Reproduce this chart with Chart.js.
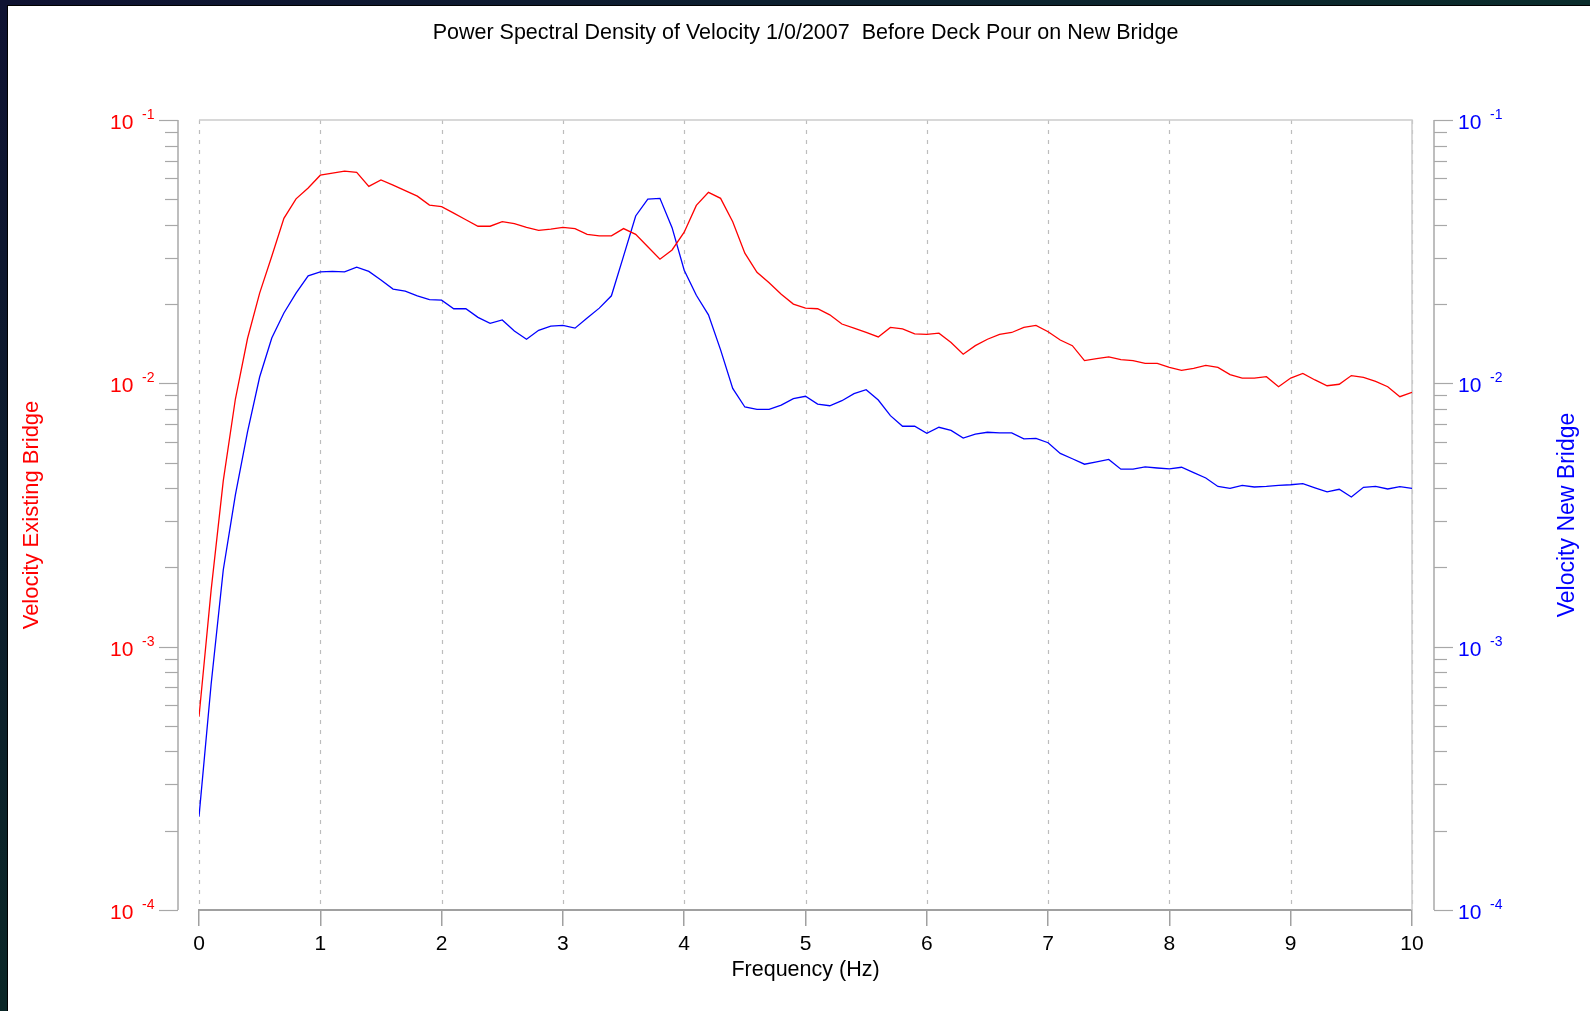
<!DOCTYPE html>
<html>
<head>
<meta charset="utf-8">
<script src="https://cdn.jsdelivr.net/npm/chart.js@4.4.1/dist/chart.umd.min.js"></script>
<style>
  html, body { margin: 0; padding: 0; background: #fff; overflow: hidden; }
  canvas { display: block; }
</style>
</head>
<body>
<canvas id="psd" width="1590" height="1011"></canvas>
<script>
const freqHz = [
  0.0, 0.1, 0.2, 0.3, 0.4, 0.5, 0.6, 0.7, 0.8, 0.9,
  1.0, 1.1, 1.2, 1.3, 1.4, 1.5, 1.6, 1.7, 1.8, 1.9,
  2.0, 2.1, 2.2, 2.3, 2.4, 2.5, 2.6, 2.7, 2.8, 2.9,
  3.0, 3.1, 3.2, 3.3, 3.4, 3.5, 3.6, 3.7, 3.8, 3.9,
  4.0, 4.1, 4.2, 4.3, 4.4, 4.5, 4.6, 4.7, 4.8, 4.9,
  5.0, 5.1, 5.2, 5.3, 5.4, 5.5, 5.6, 5.7, 5.8, 5.9,
  6.0, 6.1, 6.2, 6.3, 6.4, 6.5, 6.6, 6.7, 6.8, 6.9,
  7.0, 7.1, 7.2, 7.3, 7.4, 7.5, 7.6, 7.7, 7.8, 7.9,
  8.0, 8.1, 8.2, 8.3, 8.4, 8.5, 8.6, 8.7, 8.8, 8.9,
  9.0, 9.1, 9.2, 9.3, 9.4, 9.5, 9.6, 9.7, 9.8, 9.9,
  10.0
];

// Velocity PSD, existing bridge (left axis)
const existingBridge = [
  5.42e-4, 1.64e-3, 4.26e-3, 8.72e-3, 1.48e-2, 2.20e-2, 3.04e-2, 4.23e-2, 5.02e-2, 5.52e-2,
  6.17e-2, 6.28e-2, 6.39e-2, 6.33e-2, 5.60e-2, 5.92e-2, 5.66e-2, 5.39e-2, 5.14e-2, 4.75e-2,
  4.69e-2, 4.43e-2, 4.18e-2, 3.95e-2, 3.95e-2, 4.11e-2, 4.04e-2, 3.91e-2, 3.81e-2, 3.85e-2,
  3.91e-2, 3.87e-2, 3.68e-2, 3.63e-2, 3.63e-2, 3.87e-2, 3.68e-2, 3.30e-2, 2.96e-2, 3.21e-2,
  3.75e-2, 4.74e-2, 5.31e-2, 5.04e-2, 4.11e-2, 3.12e-2, 2.64e-2, 2.41e-2, 2.18e-2, 2.00e-2,
  1.93e-2, 1.92e-2, 1.82e-2, 1.68e-2, 1.62e-2, 1.56e-2, 1.50e-2, 1.63e-2, 1.61e-2, 1.54e-2,
  1.535e-2, 1.55e-2, 1.43e-2, 1.29e-2, 1.39e-2, 1.47e-2, 1.535e-2, 1.56e-2, 1.63e-2, 1.66e-2,
  1.57e-2, 1.46e-2, 1.39e-2, 1.22e-2, 1.24e-2, 1.26e-2, 1.23e-2, 1.22e-2, 1.19e-2, 1.19e-2,
  1.15e-2, 1.12e-2, 1.14e-2, 1.17e-2, 1.15e-2, 1.08e-2, 1.047e-2, 1.047e-2, 1.06e-2, 9.71e-3,
  1.047e-2, 1.09e-2, 1.03e-2, 9.79e-3, 9.92e-3, 1.07e-2, 1.054e-2, 1.018e-2, 9.71e-3, 8.90e-3,
  9.25e-3
];

// Velocity PSD, new bridge (right axis)
const newBridge = [
  2.26e-4, 7.2e-4, 1.955e-3, 3.77e-3, 6.54e-3, 1.057e-2, 1.487e-2, 1.85e-2, 2.20e-2, 2.56e-2,
  2.65e-2, 2.66e-2, 2.65e-2, 2.76e-2, 2.66e-2, 2.47e-2, 2.28e-2, 2.24e-2, 2.15e-2, 2.08e-2,
  2.07e-2, 1.92e-2, 1.92e-2, 1.78e-2, 1.69e-2, 1.74e-2, 1.58e-2, 1.47e-2, 1.59e-2, 1.65e-2,
  1.66e-2, 1.62e-2, 1.77e-2, 1.93e-2, 2.15e-2, 3.04e-2, 4.32e-2, 5.01e-2, 5.04e-2, 3.90e-2,
  2.69e-2, 2.16e-2, 1.82e-2, 1.34e-2, 9.57e-3, 8.13e-3, 7.97e-3, 7.97e-3, 8.27e-3, 8.74e-3,
  8.93e-3, 8.34e-3, 8.22e-3, 8.59e-3, 9.14e-3, 9.46e-3, 8.64e-3, 7.54e-3, 6.87e-3, 6.87e-3,
  6.46e-3, 6.81e-3, 6.63e-3, 6.20e-3, 6.42e-3, 6.52e-3, 6.48e-3, 6.48e-3, 6.15e-3, 6.18e-3,
  5.95e-3, 5.42e-3, 5.17e-3, 4.93e-3, 5.03e-3, 5.14e-3, 4.72e-3, 4.72e-3, 4.82e-3, 4.77e-3,
  4.73e-3, 4.80e-3, 4.58e-3, 4.37e-3, 4.06e-3, 3.99e-3, 4.10e-3, 4.04e-3, 4.06e-3, 4.10e-3,
  4.12e-3, 4.16e-3, 4.01e-3, 3.87e-3, 3.96e-3, 3.70e-3, 4.03e-3, 4.06e-3, 3.97e-3, 4.05e-3,
  3.99e-3
];

const freqTicks = [0, 1, 2, 3, 4, 5, 6, 7, 8, 9, 10];
const decadeExponents = [-1, -2, -3, -4];
const minorSteps = [2, 3, 4, 5, 6, 7, 8, 9];

const titleText = 'Power Spectral Density of Velocity 1/0/2007  Before Deck Pour on New Bridge';
const xTitle = 'Frequency (Hz)';
const leftTitle = 'Velocity Existing Bridge';
const rightTitle = 'Velocity New Bridge';

const FONT = '"Liberation Sans", Arial, Helvetica, sans-serif';
const RED = '#ff0000';
const BLUE = '#0000ff';

// draws the detached log axis (line, ticks, 10^n labels) next to the plot
function drawLogAxis(ctx, scale, lineX, dir, color) {
  let top = scale.getPixelForValue(Math.pow(10, decadeExponents[0]));
  let bottom = scale.getPixelForValue(Math.pow(10, decadeExponents[decadeExponents.length - 1]));
  ctx.strokeStyle = '#a8a8a8';
  ctx.lineWidth = 1.5;
  ctx.beginPath();
  ctx.moveTo(lineX, top);
  ctx.lineTo(lineX, bottom);
  ctx.stroke();

  ctx.lineWidth = 1.2;
  decadeExponents.forEach(function (exp, i) {
    let y = Math.round(scale.getPixelForValue(Math.pow(10, exp))) + 0.5;
    ctx.beginPath();
    ctx.moveTo(lineX, y);
    ctx.lineTo(lineX + dir * 19, y);
    ctx.stroke();
    if (i < decadeExponents.length - 1) {
      minorSteps.forEach(function (m) {
        let my = Math.round(scale.getPixelForValue(m * Math.pow(10, exp - 1))) + 0.5;
        ctx.beginPath();
        ctx.moveTo(lineX, my);
        ctx.lineTo(lineX + dir * 13, my);
        ctx.stroke();
      });
    }
    // label "10" with raised exponent
    let baseX = dir < 0 ? lineX - 68 : lineX + 24;
    ctx.fillStyle = color;
    ctx.textAlign = 'left';
    ctx.textBaseline = 'alphabetic';
    ctx.font = '21px ' + FONT;
    ctx.fillText('10', baseX, y + 8);
    ctx.font = '14px ' + FONT;
    ctx.fillText(String(exp), baseX + 32, y - 2);
  });
}

const framePlugin = {
  id: 'framePlugin',
  beforeDraw(chart) {
    let ctx = chart.ctx;
    ctx.save();
    ctx.fillStyle = '#ffffff';
    ctx.fillRect(0, 0, chart.width, chart.height);
    // dark window edge at top and left
    let gTop = ctx.createLinearGradient(0, 0, chart.width, 0);
    gTop.addColorStop(0, '#0f1232');
    gTop.addColorStop(1, '#0b2d2c');
    ctx.fillStyle = gTop;
    ctx.fillRect(0, 0, chart.width, 6);
    let gLeft = ctx.createLinearGradient(0, 0, 0, chart.height);
    gLeft.addColorStop(0, '#0f1232');
    gLeft.addColorStop(1, '#0b2727');
    ctx.fillStyle = gLeft;
    ctx.fillRect(0, 0, 8, chart.height);
    ctx.fillStyle = '#000';
    ctx.fillRect(8, 5, chart.width - 8, 1);
    ctx.fillRect(7, 5, 1, chart.height - 5);
    ctx.restore();
  },
  beforeDatasetsDraw(chart) {
    let ctx = chart.ctx;
    let area = chart.chartArea;
    let xs = chart.scales.x;
    ctx.save();
    // dashed vertical grid
    ctx.strokeStyle = '#bdbdbd';
    ctx.lineWidth = 1.2;
    ctx.setLineDash([4, 6]);
    freqTicks.forEach(function (f) {
      let x = Math.round(xs.getPixelForValue(f)) + 0.5;
      ctx.beginPath();
      ctx.moveTo(x, area.top);
      ctx.lineTo(x, area.bottom);
      ctx.stroke();
    });
    ctx.setLineDash([]);
    // light top / right frame
    ctx.strokeStyle = '#cccccc';
    ctx.lineWidth = 1.5;
    ctx.beginPath();
    ctx.moveTo(area.left, area.top);
    ctx.lineTo(area.right, area.top);
    ctx.lineTo(area.right, area.bottom);
    ctx.stroke();
    ctx.restore();
  },
  afterDraw(chart) {
    let ctx = chart.ctx;
    let area = chart.chartArea;
    ctx.save();
    drawLogAxis(ctx, chart.scales.yL, area.left - 21, -1, RED);
    drawLogAxis(ctx, chart.scales.yR, area.right + 22, 1, BLUE);

    let cx = (area.left + area.right) / 2;
    ctx.fillStyle = '#000';
    ctx.textAlign = 'center';
    ctx.textBaseline = 'alphabetic';
    ctx.font = '21.5px ' + FONT;
    ctx.fillText(titleText, cx, 39);
    ctx.font = '21.5px ' + FONT;
    ctx.fillText(xTitle, cx, 976);

    let cy = (area.top + area.bottom) / 2;
    ctx.save();
    ctx.font = '22px ' + FONT;
    ctx.translate(38, cy);
    ctx.rotate(-Math.PI / 2);
    ctx.fillStyle = RED;
    ctx.fillText(leftTitle, 0, 0);
    ctx.restore();
    ctx.save();
    ctx.font = '23px ' + FONT;
    ctx.translate(1574, cy);
    ctx.rotate(-Math.PI / 2);
    ctx.fillStyle = BLUE;
    ctx.fillText(rightTitle, 0, 0);
    ctx.restore();
    ctx.restore();
  }
};

let chart = new Chart(document.getElementById('psd'), {
  type: 'line',
  data: {
    labels: freqHz,
    datasets: [
      {
        label: leftTitle,
        data: existingBridge,
        yAxisID: 'yL',
        borderColor: RED,
        borderWidth: 1.3,
        pointRadius: 0,
        tension: 0,
        fill: false,
      },
      {
        label: rightTitle,
        data: newBridge,
        yAxisID: 'yR',
        borderColor: BLUE,
        borderWidth: 1.3,
        pointRadius: 0,
        tension: 0,
        fill: false,
      },
    ],
  },
  plugins: [framePlugin],
  options: {
    responsive: false,
    devicePixelRatio: 1,
    animation: false,
    layout: {
      padding: { left: 199, right: 178, top: 120, bottom: 0 },
    },
    plugins: {
      legend: { display: false },
      tooltip: { enabled: false },
    },
    scales: {
      x: {
        type: 'linear',
        min: 0,
        max: 10,
        afterFit: function (scale) {
          scale.height = 101;
        },
        grid: {
          drawOnChartArea: false,
          drawTicks: true,
          tickLength: 16,
          color: '#a0a0a0',
          lineWidth: 1.5,
        },
        border: { display: true, color: '#a0a0a0', width: 2 },
        ticks: {
          stepSize: 1,
          color: '#000',
          padding: 6,
          maxRotation: 0,
          font: { size: 21, family: FONT },
        },
      },
      yL: {
        type: 'logarithmic',
        position: 'left',
        min: 1e-4,
        max: 1e-1,
        display: false,
      },
      yR: {
        type: 'logarithmic',
        position: 'right',
        min: 1e-4,
        max: 1e-1,
        display: false,
      },
    },
  },
});
</script>
</body>
</html>
